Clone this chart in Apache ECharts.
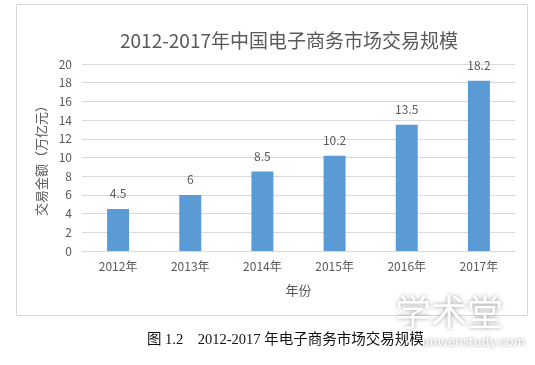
<!DOCTYPE html>
<html><head><meta charset="utf-8">
<script src="https://cdn.jsdelivr.net/npm/echarts@6/dist/echarts.min.js"></script>
<style>html,body{margin:0;padding:0;background:#fff}#c{width:535px;height:365px}</style>
</head><body><div id="c"></div>
<script>
const categories = ['2012年','2013年','2014年','2015年','2016年','2017年'];
const values = [4.5, 6, 8.5, 10.2, 13.5, 18.2];
const yTicks = {min:0, max:20, interval:2};
const titleText = '2012-2017年中国电子商务市场交易规模';
const captionText = '图 1.2    2012-2017 年电子商务市场交易规模';

const chart = echarts.init(document.getElementById('c'), null, {renderer:'canvas'});
const txt = '#595959';
const ff = '"Noto Sans CJK SC", "Liberation Sans", sans-serif';
chart.setOption({
  animation:false,
  backgroundColor:'#fff',
  title:{text:titleText, left:284, top:26, textAlign:'center',
    textStyle:{fontSize:19, fontWeight:'normal', color:txt, fontFamily:ff}},
  grid:{left:82, right:20, top:64, bottom:114, containLabel:false},
  xAxis:{type:'category', data:categories,
    axisLine:{lineStyle:{color:'#d9d9d9'}}, axisTick:{show:false},
    axisLabel:{color:txt, fontSize:12, fontFamily:ff, margin:9},
    name:'年份', nameLocation:'middle', nameGap:33,
    nameTextStyle:{color:txt, fontSize:13, fontFamily:ff}},
  yAxis:{type:'value', min:yTicks.min, max:yTicks.max, interval:yTicks.interval,
    axisLine:{show:false}, axisTick:{show:false},
    splitLine:{lineStyle:{color:'#d9d9d9', width:1}},
    axisLabel:{color:txt, fontSize:12, fontFamily:ff, margin:10},
    name:'交易金额（万亿元）', nameLocation:'middle', nameGap:34, nameRotate:90,
    nameTextStyle:{color:txt, fontSize:13, fontFamily:ff}},
  series:[{type:'bar', data:values, barWidth:22,
    itemStyle:{color:'#5b9bd5'},
    label:{show:true, position:'top', distance:9, color:txt, fontSize:12, fontFamily:ff}}],
  graphic:[
    {type:'rect', shape:{x:16.5, y:4.5, width:511, height:311}, silent:true, z:-10,
      style:{fill:null, stroke:'#d9d9d9', lineWidth:1}},
    {type:'text', left:418, top:335, silent:true, z:20,
      style:{text:'lunwenstudy.com', fill:'#ffffff', fontSize:13, fontFamily:ff,
        textShadowColor:'#888', textShadowBlur:3}},
    {type:'text', left:147, top:333, silent:true, z:30,
      style:{text:captionText, fill:'#111', fontSize:14.5, fontFamily:'"Liberation Serif", "Noto Sans CJK SC", serif',
        backgroundColor:'#fff'}},
    {type:'text', left:395, top:294, silent:true, z:20,
      style:{text:'学术堂', fill:'#ffffff', fontSize:36, fontFamily:ff,
        textShadowColor:'#999', textShadowBlur:4}}
  ]
});
</script></body></html>
